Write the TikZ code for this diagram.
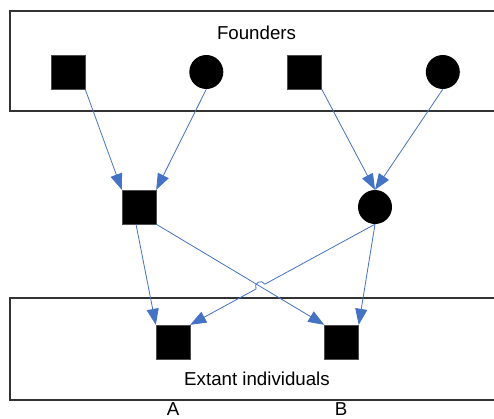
\documentclass[tikz,border=0pt]{standalone}
\usepackage{fontspec}
\setmainfont{Liberation Sans}
\usetikzlibrary{arrows.meta,calc}
\definecolor{linkblue}{HTML}{4472C4}
\definecolor{boxgray}{HTML}{333333}
\begin{document}
\begin{tikzpicture}[x=1pt,y=-1pt,
  sqnode/.style={rectangle,fill=black,draw=black!70,line width=0.4pt,minimum size=34pt,inner sep=0pt},
  cinode/.style={circle,fill=black,minimum size=34pt,inner sep=0pt},
  groupbox/.style={draw=boxgray,line width=1.3pt},
  link/.style={draw=linkblue,line width=0.8pt,-{Triangle[length=16pt,width=12pt]}},
  lbl/.style={font=\fontsize{18.7}{22}\selectfont,inner sep=0pt,anchor=base}]
\useasboundingbox (0,0) rectangle (494,418);
\clip (0,0) rectangle (494,418);
\fill[white] (0,0) rectangle (494,418);
% group boxes
\draw[groupbox] (10,11) rectangle (510,111);
\draw[groupbox] (10,298) rectangle (510,400);
\node[lbl] (founders) at (256.5,39) {Founders};
\node[lbl] (extant) at (257,385) {Extant individuals};
% founders
\node[sqnode] (f1) at (68,72) {};
\node[cinode] (f2) at (206.3,72) {};
\node[sqnode] (f3) at (304.5,72) {};
\node[cinode] (f4) at (442.8,72) {};
% middle generation
\node[sqnode] (ms) at (139,207) {};
\node[cinode] (mc) at (375,207) {};
% extant
\node[sqnode] (a) at (173,342) {};
\node[sqnode] (b) at (341.5,342) {};
\node[lbl] (la) at (173,415.5) {A};
\node[lbl] (lb) at (341,415.5) {B};
% connectors
\draw[link] (f1.south east) -- (ms.north west);
\draw[link] (f2.south) -- (ms.north east);
\draw[link] (f3.south east) -- (mc.north);
\draw[link] (f4.south) -- (mc.north);
\draw[link] ($(ms.south)+(-3,0)$) -- (a.north west);
\draw[link] (ms.south east) -- (b.north west);
\draw[link] (mc.south) -- (b.north east);
% crossing with hop
\coordinate (x) at (intersection of ms.south east--b.north west and mc.south--a.north east);
\coordinate (h1) at ($(x)!5pt!(mc.south)$);
\draw[link] (mc.south) -- (h1) arc[start angle=28.6,end angle=208.6,radius=5pt] -- (a.north east);
\end{tikzpicture}
\end{document}
